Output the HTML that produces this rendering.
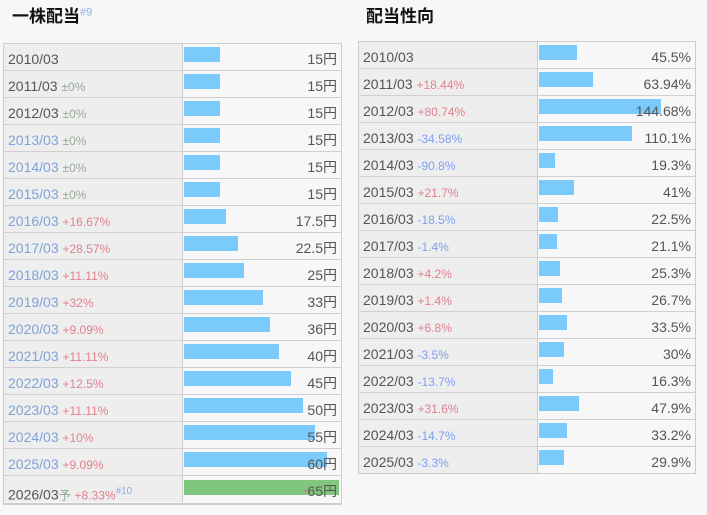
<!DOCTYPE html>
<html><head><meta charset="utf-8"><style>
body{margin:0;width:707px;height:515px;background:#f7f7f7;font-family:"Liberation Sans","Noto Sans CJK JP",sans-serif;position:relative;overflow:hidden}
.t{position:absolute;font-weight:bold;font-size:17px;color:#111}
.t sup{font-weight:normal;font-size:11px;color:#8ab0e0}
.tbl{position:absolute;border:1px solid #ccc;border-bottom:none}
.row{position:relative;height:26px;border-bottom:1px solid #d0d0d0}
.lab{position:absolute;left:0;top:0;height:26px;width:179px;background:#eee;border-right:1px solid #ccc;font-size:14px;line-height:31px;padding-left:4px;box-sizing:border-box;color:#555;white-space:nowrap}
.lab small{font-size:12px}
.bar{position:absolute;top:3px;height:15px;background:#7acafc}
.val{position:absolute;right:4px;top:0;font-size:14px;line-height:31px;color:#555}
</style></head><body>
<div class="t" style="left:12px;top:2px">一株配当<sup>#9</sup></div>
<div class="t" style="left:366px;top:2px">配当性向</div>
<div class="tbl" id="t1" style="left:3px;top:43px;width:337px"></div>
<div class="tbl" id="t2" style="left:358px;top:41px;width:336px"></div>
<script>
const divYears=["2010/03","2011/03","2012/03","2013/03","2014/03","2015/03","2016/03","2017/03","2018/03","2019/03","2020/03","2021/03","2022/03","2023/03","2024/03","2025/03","2026/03"];
const divValues=[15,15,15,15,15,15,17.5,22.5,25,33,36,40,45,50,55,60,65];
const divChanges=["","±0%","±0%","±0%","±0%","±0%","+16.67%","+28.57%","+11.11%","+32%","+9.09%","+11.11%","+12.5%","+11.11%","+10%","+9.09%","+8.33%"];
const payYears=["2010/03","2011/03","2012/03","2013/03","2014/03","2015/03","2016/03","2017/03","2018/03","2019/03","2020/03","2021/03","2022/03","2023/03","2024/03","2025/03"];
const payValues=[45.5,63.94,144.68,110.1,19.3,41,22.5,21.1,25.3,26.7,33.5,30,16.3,47.9,33.2,29.9];
const payChanges=["","+18.44%","+80.74%","-34.58%","-90.8%","+21.7%","-18.5%","-1.4%","+4.2%","+1.4%","+6.8%","-3.5%","-13.7%","+31.6%","-14.7%","-3.3%"];
function chCol(c){return c[0]=="+"?"#e0808e":c[0]=="-"?"#7d9ff0":"#9aaa9a";}
function build(id,years,vals,chs,scale,fmt,isDiv){
  const t=document.getElementById(id);
  years.forEach((y,i)=>{
    const r=document.createElement('div');r.className='row';
    
    
    const l=document.createElement('div');l.className='lab';
    
    
    const yc=isDiv&&i>=3&&i<16?'#7fa3d6':'#555';
    let h='<span style="color:'+yc+'">'+y+'</span>';
    if(isDiv&&i==16)h+='<small style="color:#8a8">予</small>';
    if(chs[i])h+=' <small style="color:'+chCol(chs[i])+'">'+chs[i]+'</small>';
    if(isDiv&&i==16)h+='<sup style="font-size:10px;color:#8ab0e0">#10</sup>';
    l.innerHTML=h;r.appendChild(l);
    const b=document.createElement('div');b.className='bar';
    
    
    b.style.left='180px';b.style.width=Math.min(vals[i]*scale,155)+'px';
    if(isDiv&&i==16){b.style.background='#80c67f';b.style.top='4px';}
    r.appendChild(b);
    const v=document.createElement('div');v.className='val';
    
    
    v.innerHTML=(isDiv&&i==16?'<span style="color:#e07070;font-size:10px">*</span>':'')+fmt(vals[i]);
    r.appendChild(v);t.appendChild(r);
  });
}
build('t1',divYears,divValues,divChanges,2.385,v=>v+'円',true);
build('t2',payYears,payValues,payChanges,0.843,v=>v+'%',false);
const last=document.querySelector('#t1 .row:last-child');
last.style.height='27px';last.style.borderBottom='2px solid #ccc';
document.querySelector('#t2 .row:last-child').style.borderBottom='1px solid #ccc';
</script>
</body></html>
